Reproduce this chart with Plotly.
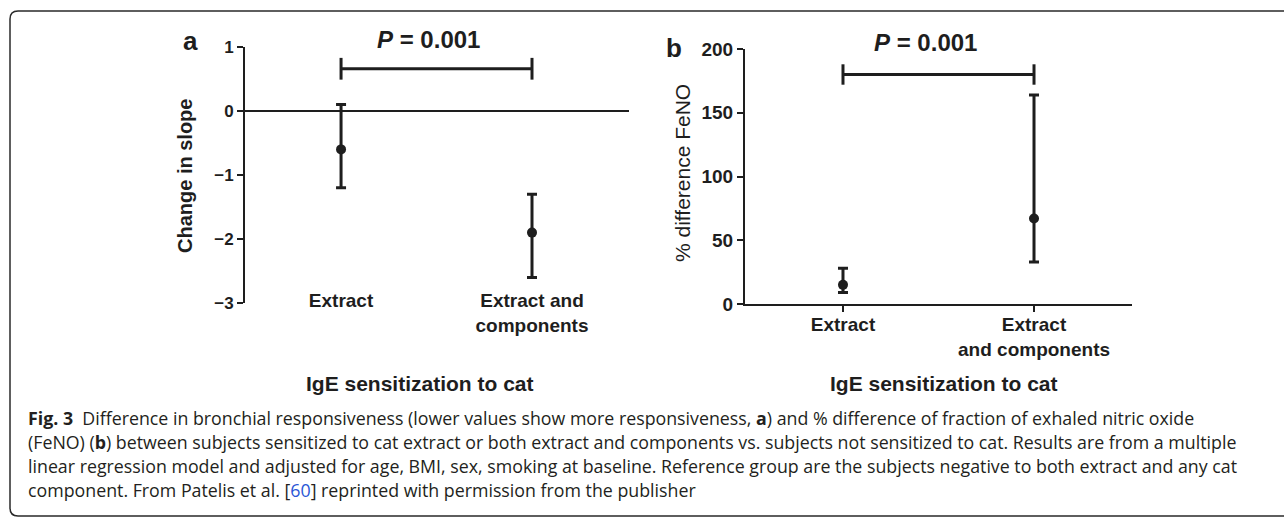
import plotly.graph_objects as go

# ---------------- data ----------------
categories = ["Extract", "Extract and components"]
ticktext_a = ["Extract", "Extract and<br>components"]
ticktext_b = ["Extract", "Extract<br>and components"]

slope_est = [-0.6, -1.9]
slope_lo = [-1.2, -2.6]
slope_hi = [0.1, -1.3]

feno_est = [15, 67]
feno_lo = [9, 33]
feno_hi = [28, 164]

yticks_a = [-3, -2, -1, 0, 1]
yticks_b = [0, 50, 100, 150, 200]

p_text = "<i>P</i> = 0.001"
bracket_a = 0.66
bracket_b = 180

W, H = 1284, 517
INK = "#1e1e1e"
FIG_FONT = "Liberation Sans, Arial, sans-serif"


def px(x):
    return x / W


def py(y):
    return 1 - y / H


fig = go.Figure()


def err_trace(est, lo, hi, xa, ya):
    return go.Scatter(
        x=categories, y=est, mode="markers", xaxis=xa, yaxis=ya,
        marker=dict(size=10, color=INK),
        error_y=dict(type="data", symmetric=False,
                     array=[h - e for h, e in zip(hi, est)],
                     arrayminus=[e - l for e, l in zip(est, lo)],
                     color=INK, thickness=3, width=5),
        showlegend=False, hoverinfo="skip")


def bracket_trace(level, cap, xa, ya):
    return go.Scatter(
        x=categories, y=[level, level], mode="lines", xaxis=xa, yaxis=ya,
        line=dict(color=INK, width=3),
        error_y=dict(type="data", array=[cap, cap], color=INK, thickness=3, width=0),
        showlegend=False, hoverinfo="skip")


fig.add_trace(err_trace(slope_est, slope_lo, slope_hi, "x", "y"))
fig.add_trace(bracket_trace(bracket_a, 0.17, "x", "y"))
fig.add_trace(err_trace(feno_est, feno_lo, feno_hi, "x2", "y2"))
fig.add_trace(bracket_trace(bracket_b, 8, "x2", "y2"))

fig.update_layout(
    width=W, height=H, autosize=False,
    margin=dict(l=0, r=0, t=0, b=0, pad=0, autoexpand=False),
    showlegend=False,
    paper_bgcolor="white", plot_bgcolor="white",
    font=dict(family=FIG_FONT, color=INK),
    xaxis=dict(domain=[px(245), px(629)], range=[-0.503, 1.508], automargin=False,
               type="category", anchor="free", position=py(287),
               showline=False, showgrid=False, zeroline=False, ticks="",
               tickvals=categories, ticktext=ticktext_a,
               tickfont=dict(size=19, family=FIG_FONT, color=INK, weight="bold")),
    yaxis=dict(domain=[py(303), py(47)], range=[-3, 1], anchor="x", automargin=False,
               showline=True, linecolor=INK, linewidth=2, showgrid=False,
               zeroline=True, zerolinecolor=INK, zerolinewidth=1.5,
               ticks="outside", ticklen=6, tickwidth=2, tickcolor=INK,
               tickvals=yticks_a,
               tickfont=dict(size=17, family=FIG_FONT, color=INK, weight="bold")),
    xaxis2=dict(domain=[px(745), px(1132)], range=[-0.513, 1.513], automargin=False,
                type="category", anchor="y2",
                showline=True, linecolor=INK, linewidth=2, showgrid=False, zeroline=False,
                ticks="outside", ticklen=6, tickwidth=2, tickcolor=INK,
                ticklabelstandoff=-4,
                tickvals=categories, ticktext=ticktext_b,
                tickfont=dict(size=19, family=FIG_FONT, color=INK, weight="bold")),
    yaxis2=dict(domain=[py(304), py(49)], range=[0, 200], anchor="x2", automargin=False,
                showline=True, linecolor=INK, linewidth=2, showgrid=False, zeroline=False,
                ticks="outside", ticklen=6, tickwidth=2, tickcolor=INK,
                tickvals=yticks_b,
                tickfont=dict(size=19, family=FIG_FONT, color=INK, weight="bold")),
)

ann = []


def add_text(text, x, y, size, bold=True, angle=0, family=FIG_FONT, xanchor="center", color=INK):
    ann.append(dict(text=text, x=px(x), y=py(y), xref="paper", yref="paper",
                    xanchor=xanchor, yanchor="middle", showarrow=False, textangle=angle,
                    font=dict(size=size, family=family, color=color,
                              weight="bold" if bold else "normal")))


add_text("a", 191, 41, 26)
add_text("b", 674, 48, 26)
add_text(p_text, 428, 40, 24)
add_text(p_text, 925, 43, 24)
add_text("Change in slope", 185, 176, 20, angle=-90)
add_text("% difference FeNO", 682, 173, 21, bold=False, angle=-90)
add_text("IgE sensitization to cat", 420, 383, 21)
add_text("IgE sensitization to cat", 944, 383, 21)

CAP_FONT = "Open Sans, Noto Sans, sans-serif"
CAP_COL = "#231f20"
caption = [
    "<b>Fig. 3</b>  Difference in bronchial responsiveness (lower values show more responsiveness, <b>a</b>) and % difference of fraction of exhaled nitric oxide",
    "(FeNO) (<b>b</b>) between subjects sensitized to cat extract or both extract and components vs. subjects not sensitized to cat. Results are from a multiple",
    "linear regression model and adjusted for age, BMI, sex, smoking at baseline. Reference group are the subjects negative to both extract and any cat",
    "component. From Patelis et al. [<span style='color:#2b57d6'>60</span>] reprinted with permission from the publisher",
]
for i, line in enumerate(caption):
    add_text(line, 26, 418 + 24 * i, 17.8, bold=False, family=CAP_FONT, xanchor="left", color=CAP_COL)

fig.update_layout(annotations=ann)

# rounded frame (open to the right)
r = 8
frame = (f"M {px(1300)},{py(11)} L {px(10 + r)},{py(11)} "
         f"Q {px(10)},{py(11)} {px(10)},{py(11 + r)} "
         f"L {px(10)},{py(516 - r)} Q {px(10)},{py(516)} {px(10 + r)},{py(516)} "
         f"L {px(1300)},{py(516)}")
fig.add_shape(type="path", path=frame, xref="paper", yref="paper",
              line=dict(color="#2a2a2a", width=1.5))

fig.write_html("out.html", config={"displayModeBar": False},
               post_script="document.body.style.margin='0';")
